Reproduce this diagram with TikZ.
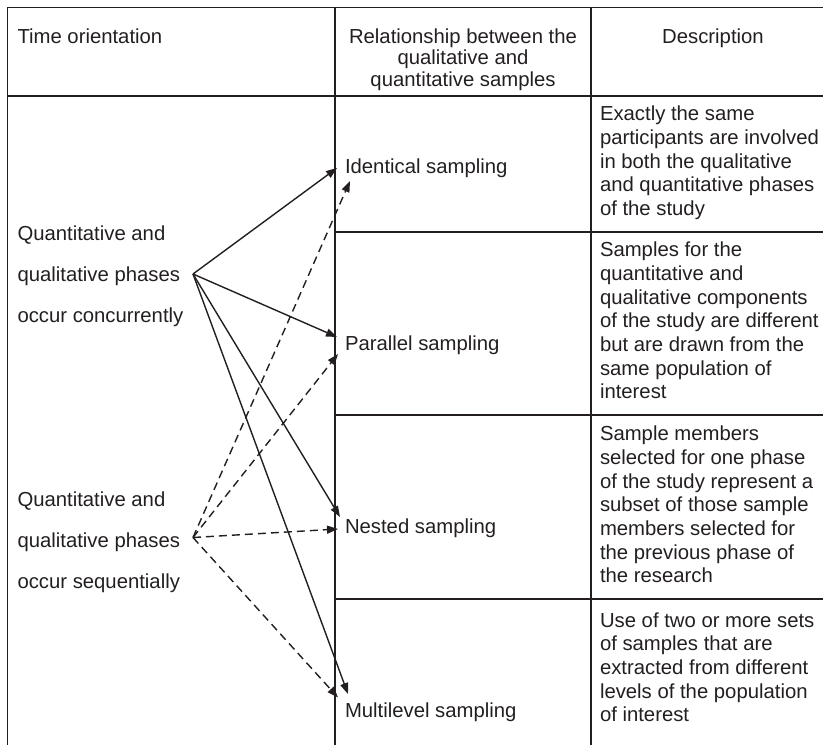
\documentclass[tikz,border=0pt]{standalone}
\usepackage{fontspec}
\setmainfont{Liberation Sans}
\usetikzlibrary{arrows.meta}
\definecolor{ink}{HTML}{231F20}
\begin{document}
\begin{tikzpicture}[x=1pt,y=-1pt,
  rule/.style={draw=ink,line width=1.3pt},
  txt/.style={inner sep=0pt,outer sep=0pt,text=ink,font=\fontsize{20.3}{23.7}\selectfont},
  desc/.style={txt,align=left,anchor=base west},
  lbl/.style={txt,anchor=base west},
  solidarr/.style={draw=ink,line width=1.4pt,-{Triangle[length=11pt,width=8pt]}},
  dasharr/.style={solidarr,dash pattern=on 8pt off 5pt},
]
\useasboundingbox (0,0) rectangle (823,745);
% table rules
\draw[rule] (7.5,745) -- (7.5,7.5) -- (823,7.5);
\draw[rule] (7.5,96) -- (823,96);
\draw[rule] (335,7.5) -- (335,745);
\draw[rule] (591,7.5) -- (591,745);
\draw[rule] (335,232) -- (823,232);
\draw[rule] (335,415) -- (823,415);
\draw[rule] (335,599) -- (823,599);
% header (base anchor of a multi-line node = baseline of its last line)
\node[lbl] (h1) at (17.5,43) {Time orientation};
\node[txt,align=center,anchor=base,font=\fontsize{20.3}{21.6}\selectfont] (h2) at (463,86.5) {Relationship between the\\qualitative and\\quantitative samples};
\node[txt,anchor=base] (h3) at (713,43) {Description};
% left column
\node[lbl] (c1) at (17.5,240.5) {Quantitative and};
\node[lbl] (c2) at (17.5,281.5) {qualitative phases};
\node[lbl] (c3) at (17.5,322.5) {occur concurrently};
\node[lbl] (s1) at (17.5,506) {Quantitative and};
\node[lbl] (s2) at (17.5,547) {qualitative phases};
\node[lbl] (s3) at (17.5,588) {occur sequentially};
\coordinate (C) at (193,274);
\coordinate (S) at (193,537.5);
% sampling labels
\node[lbl] (ident) at (345,173.5) {Identical sampling};
\node[lbl] (paral) at (345,350) {Parallel sampling};
\node[lbl] (nest) at (345,533) {Nested sampling};
\node[lbl] (multi) at (345,717) {Multilevel sampling};
% arrow tips
\coordinate (iS) at (337,168);
\coordinate (iD) at (350,181);
\coordinate (pS) at (337,337);
\coordinate (pD) at (338,354);
\coordinate (nS) at (340,517);
\coordinate (nD) at (338,529);
\coordinate (mS) at (348,694);
\coordinate (mD) at (338,697.5);
\draw[solidarr] (C) -- (iS);
\draw[solidarr] (C) -- (pS);
\draw[solidarr] (C) -- (nS);
\draw[solidarr] (C) -- (mS);
\draw[dasharr] (S) -- (iD);
\draw[dasharr] (S) -- (pD);
\draw[dasharr] (S) -- (nD);
\draw[dasharr] (S) -- (mD);
% descriptions
\node[desc] (d1) at (600,215.5) {Exactly the same\\participants are involved\\in both the qualitative\\and quantitative phases\\of the study};
\node[desc] (d2) at (600,398.9) {Samples for the\\quantitative and\\qualitative components\\of the study are different\\but are drawn from the\\same population of\\interest};
\node[desc] (d3) at (600,582.9) {Sample members\\selected for one phase\\of the study represent a\\subset of those sample\\members selected for\\the previous phase of\\the research};
\node[desc] (d4) at (600,721.8) {Use of two or more sets\\of samples that are\\extracted from different\\levels of the population\\of interest};
\end{tikzpicture}
\end{document}
